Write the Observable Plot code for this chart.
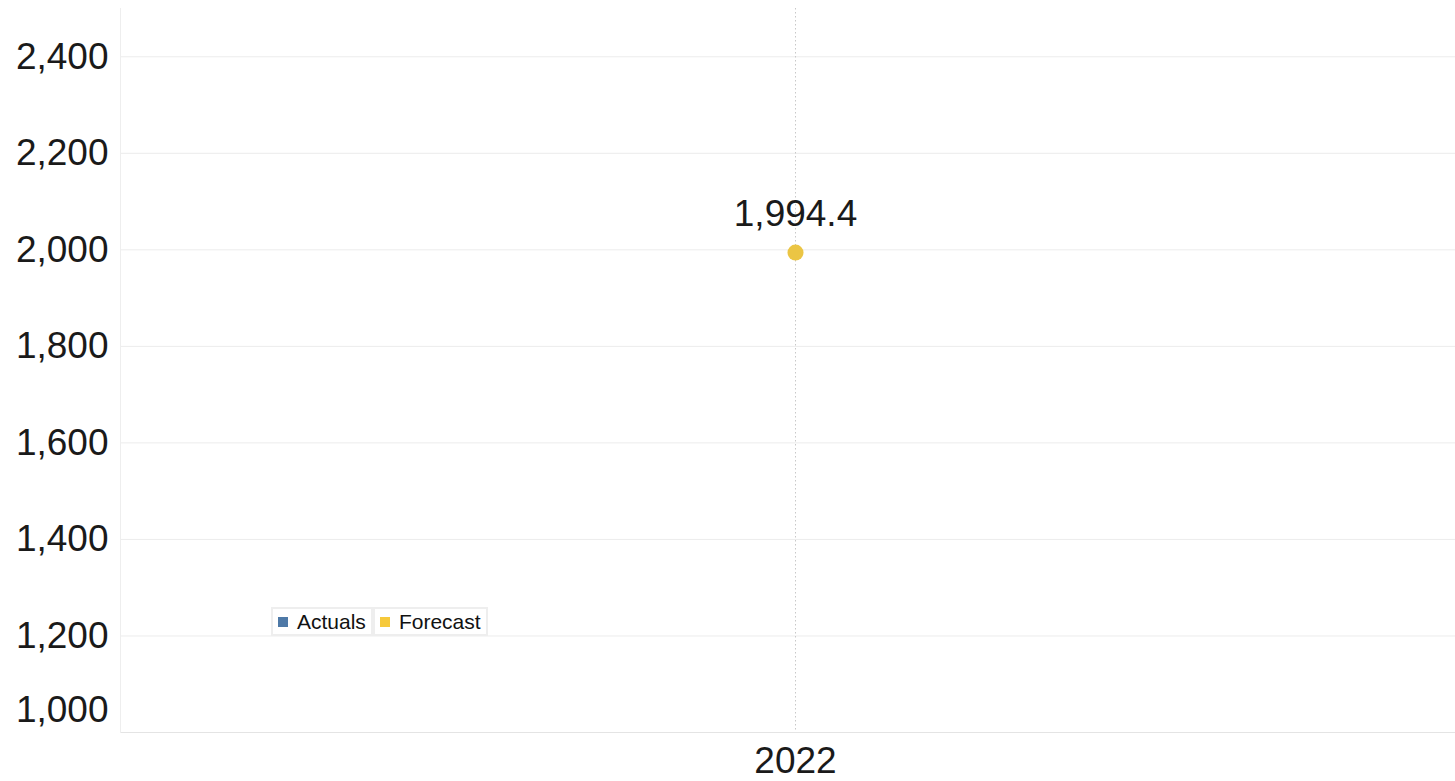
<!DOCTYPE html>
<html>
<head>
<meta charset="utf-8">
<script src="https://cdn.jsdelivr.net/npm/d3@7"></script>
<script src="https://cdn.jsdelivr.net/npm/@observablehq/plot@0.6"></script>
<style>
  html, body { margin: 0; padding: 0; background: #fff; overflow: hidden; }
  #wrap { position: relative; width: 1455px; height: 781px; font-family: Arial, "Liberation Sans", sans-serif; }
  .legend { position: absolute; left: 271px; top: 607px; display: flex; font-size: 21px; color: #111; }
  .legend .item { display: flex; align-items: center; border: 2px solid #eeeeee; background: #fff; padding: 0 5px 0 5px; height: 25px; margin-right: 0px; }
  .legend .sw { width: 10px; height: 10px; margin-right: 9px; display: inline-block; }
</style>
</head>
<body>
<div id="wrap"></div>
<script>
const years = ["2022"];
const series = ["Forecast"];
const values = [1994.4];
const legendLabels = ["Actuals", "Forecast"];
const legendColors = ["#4e79a7", "#f6c93b"];
const yTicks = [1200, 1400, 1600, 1800, 2000, 2200, 2400];
const yBottomTick = [1000];

const data = years.map((y, i) => ({year: y, series: series[i], value: values[i]}));
const fmtTick = d3.format(",");
const fmtLabel = d3.format(",.1f");

const chart = Plot.plot({
  width: 1455,
  height: 781,
  marginLeft: 120,
  marginRight: 0,
  marginTop: 8,
  marginBottom: 49,
  style: {fontFamily: "Arial, 'Liberation Sans', sans-serif", background: "#fff"},
  x: {type: "point", domain: years, align: 0.5056, padding: 0.5, label: null},
  y: {domain: [1000, 2500], label: null},
  marks: [
    Plot.ruleY(yTicks, {stroke: "#ececec", strokeWidth: 1}),
    Plot.ruleY(yBottomTick, {stroke: "#e4e4e4", strokeWidth: 1}),
    Plot.frame({anchor: "left", stroke: "#eeeeee"}),
    Plot.ruleX(years, {stroke: "#c8c8c8", strokeDasharray: "1.5,2.5", strokeWidth: 1}),
    Plot.axisY(yTicks, {tickSize: 0, tickPadding: 12, fontSize: 37, fill: "#1a1a1a", tickFormat: fmtTick, label: null}),
    Plot.axisY(yBottomTick, {tickSize: 0, tickPadding: 12, fontSize: 37, fill: "#1a1a1a", tickFormat: fmtTick, dy: -22, label: null}),
    Plot.axisX(years, {tickSize: 0, tickPadding: 14, fontSize: 37, fill: "#1a1a1a", label: null}),
    Plot.dot(data, {x: "year", y: "value", r: 8, fill: "#ebc544", stroke: null}),
    Plot.text(data, {x: "year", y: "value", text: d => fmtLabel(d.value), dy: -38, fontSize: 37, fill: "#1a1a1a"})
  ]
});

const wrap = document.getElementById("wrap");
wrap.appendChild(chart);

const legend = document.createElement("div");
legend.className = "legend";
legendLabels.forEach((lab, i) => {
  const item = document.createElement("div");
  item.className = "item";
  const sw = document.createElement("span");
  sw.className = "sw";
  sw.style.background = legendColors[i];
  item.appendChild(sw);
  item.appendChild(document.createTextNode(lab));
  legend.appendChild(item);
});
wrap.appendChild(legend);
</script>
</body>
</html>
